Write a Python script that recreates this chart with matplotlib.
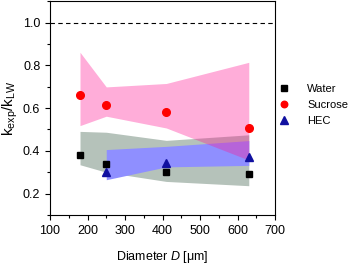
import matplotlib
matplotlib.use("Agg")
import matplotlib.pyplot as plt
from matplotlib.ticker import MultipleLocator

plt.rcParams['font.family'] = ['Liberation Sans', 'DejaVu Sans']
plt.rcParams['mathtext.fontset'] = 'custom'
plt.rcParams['mathtext.rm'] = 'Liberation Sans'
plt.rcParams['mathtext.it'] = 'Liberation Sans:italic'

# data
diam = [180, 250, 410, 630]
water = [0.38, 0.34, 0.30, 0.29]
sucrose = [0.66, 0.615, 0.583, 0.505]
diam_hec = [250, 410, 630]
hec = [0.30, 0.345, 0.37]

# shaded ranges
water_lo = [0.335, 0.30, 0.257, 0.237]
water_hi = [0.491, 0.487, 0.449, 0.475]
sucrose_lo = [0.518, 0.562, 0.507, 0.357]
sucrose_hi = [0.861, 0.699, 0.715, 0.814]
hec_lo = [0.265, 0.325, 0.332]
hec_hi = [0.406, 0.421, 0.448]

fig = plt.figure(figsize=(3.48, 2.64), dpi=100)
ax = fig.add_axes([0.1437, 0.1856, 0.6466, 0.81])

ax.fill_between(diam, water_lo, water_hi, color='#b5c2ba', lw=0, zorder=1)
ax.fill_between(diam_hec, hec_lo, hec_hi, color='#8f8fff', lw=0, zorder=2)
ax.fill_between(diam, sucrose_lo, sucrose_hi, color='#ff1493', alpha=0.35, lw=0, zorder=3)

ax.axhline(1.0, color='black', ls=(0, (4, 3)), lw=0.8, zorder=4)

ax.plot(diam, water, 's', color='black', ms=5, label='Water', zorder=5)
ax.plot(diam, sucrose, 'o', color='#ff0000', ms=5.5, label='Sucrose', zorder=5)
ax.plot(diam_hec, hec, '^', color='#1010a0', ms=6, label='HEC', zorder=5)

ax.set_xlim(100, 700)
ax.set_ylim(0.1, 1.1)
ax.xaxis.set_major_locator(MultipleLocator(100))
ax.xaxis.set_minor_locator(MultipleLocator(50))
ax.yaxis.set_minor_locator(MultipleLocator(0.1))
ax.set_yticks([0.2, 0.4, 0.6, 0.8, 1.0])
ax.tick_params(which='major', direction='out', length=3.5, width=0.8, labelsize=9, pad=3.5)
ax.tick_params(which='minor', direction='out', length=2, width=0.8)
for s in ax.spines.values():
    s.set_linewidth(0.8)

ax.set_xlabel(r'Diameter $\mathit{D}$ [μm]', fontsize=9, labelpad=9)
ax.set_ylabel(r'k$_{\mathrm{exp}}$/k$_{\mathrm{LW}}$', fontsize=11, labelpad=2)

ax.legend(loc='center left', bbox_to_anchor=(1.0, 0.514), frameon=False, fontsize=8,
          handletextpad=1.7, labelspacing=0.55, handlelength=0.8, borderaxespad=0,
          markerscale=0.85)

fig.savefig('out.png', dpi=100)
